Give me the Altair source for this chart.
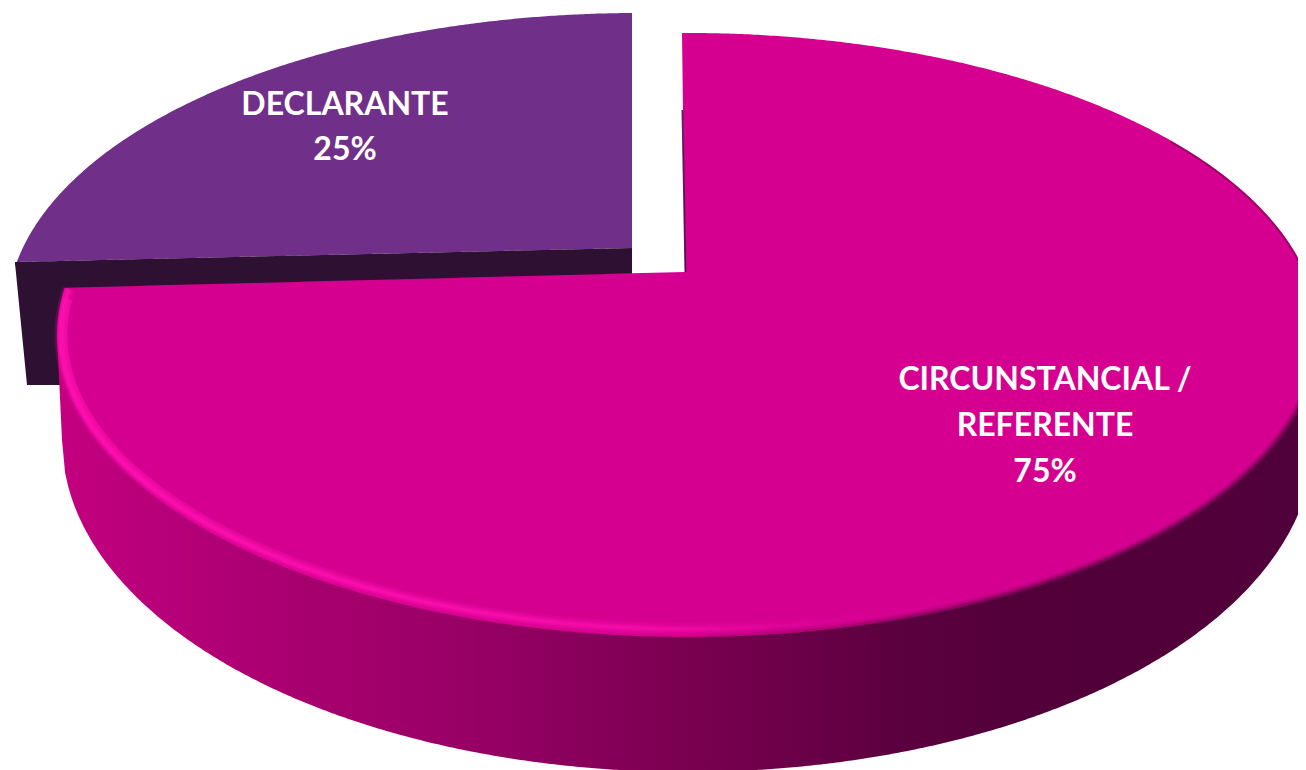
import numpy as np
import pandas as pd
import altair as alt

# ---- chart values ----
categories = ["CIRCUNSTANCIAL / REFERENTE", "DECLARANTE"]
shares = [75, 25]
label_lines = [["CIRCUNSTANCIAL /", "REFERENTE", "75%"], ["DECLARANTE", "25%"]]

# ---- drawing layout (canvas pixels) ----
W, H, MARGIN = 1306, 770, 8
VIEW_RIGHT = W - MARGIN                       # the page keeps the svg inside its 8px margins
CX, CY, RX, RY = 688.0, 335.0, 631.0, 302.0   # top face ellipse of the large slice
EX, EY = -50.0, -20.0                         # explosion offset of the small slice
APEX = (685.0, 272.0)
TILT = 9.0                                    # perspective offset of the slice edge, degrees
BX, BY, BRX, BRY = 688.0, 440.0, 626.0, 332.0 # silhouette of the wall
PINK, PURPLE, PURPLE_DARK = "#D60090", "#70308A", "#2E1033"
LABEL_POS = [(1045, [380, 426, 472]), (345, [105, 150])]

sweep = np.deg2rad(360 * shares[0] / sum(shares) + TILT)


def ell_x(t):
    return CX + RX * np.sin(t)


def ell_y(t):
    return CY - RY * np.cos(t)


def top_y(x, cx=CX, cy=CY, rx=RX, ry=RY):
    return cy - ry * np.sqrt(np.clip(1 - ((x - cx) / rx) ** 2, 0, 1))


def bot_y(x, cx=CX, cy=CY, rx=RX, ry=RY):
    return cy + ry * np.sqrt(np.clip(1 - ((x - cx) / rx) ** 2, 0, 1))


def frame(x, y, y2=None):
    d = {"x": x, "y": y, "i": np.arange(len(x))}
    if y2 is not None:
        d["yb"] = y2
    return pd.DataFrame(d)


xs = alt.X("x:Q", scale=alt.Scale(domain=[MARGIN, VIEW_RIGHT], nice=False, zero=False), axis=None)
ys = alt.Y("y:Q", scale=alt.Scale(domain=[H, MARGIN], nice=False, zero=False), axis=None)


def area(df, **mark):
    return alt.Chart(df).mark_area(clip=True, interpolate="linear", orient="vertical", **mark).encode(
        x=xs, y=ys, y2=alt.Y2("yb"))


def line(df, **mark):
    return alt.Chart(df).mark_line(clip=True, interpolate="linear", **mark).encode(
        x=xs, y=ys, order=alt.Order("i:Q"))


def grad(stops):
    return alt.LinearGradient(
        gradient="linear", x1=0, x2=1, y1=0, y2=0,
        stops=[alt.GradientStop(offset=float(o), color=c) for o, c in stops])


# ---- small slice: top face ----
corner_x, corner_y = 15.0, 262.0
end_x, end_y = 632.0, 248.0
px = np.concatenate([np.linspace(corner_x, 60, 40), np.linspace(60, end_x, 200)])
p_top = top_y(px, CX + EX, CY + EY)
p_bot = corner_y + (px - corner_x) / (end_x - corner_x) * (end_y - corner_y)
purple_top = area(frame(px, p_top, p_bot), color=PURPLE)

# ---- small slice: cut face ----
dx = np.concatenate([[corner_x], np.linspace(27, 100, 10), [100, end_x]])
d_top = corner_y + (dx - corner_x) / (end_x - corner_x) * (end_y - corner_y)
d_bot = np.concatenate([[corner_y + 1], np.full(10, 385.0), [295.0, 280.0]])
purple_side = area(frame(dx, d_top, d_bot), color=PURPLE_DARK)

# ---- large slice: outer wall ----
wx = np.concatenate([[CX - RX], np.linspace(BX - BRX, VIEW_RIGHT, 400)])
wy = np.concatenate([[CY], bot_y(wx[1:], BX, BY, BRX, BRY)])
wall_stops_x = [57, 200, 300, 450, 600, 700, 800, 900, 1000, 1298]
wall_stops_c = ["#C4007F", "#B20077", "#A8006F", "#9A0067", "#860059", "#78004F",
                "#6A0048", "#5C003F", "#53003A", "#50003A"]
wall_grad = grad([((x - 57) / (1298 - 57), c) for x, c in zip(wall_stops_x, wall_stops_c)])
wall = area(frame(wx, np.full(len(wx), CY), wy), color=wall_grad)

# ---- large slice: top face ----
t_end = sweep
corner = (ell_x(t_end), ell_y(t_end))
lx = np.concatenate([CX - RX * np.cos(np.linspace(0, np.pi / 2 - (2 * np.pi - t_end), 30)),
                     np.linspace(corner[0] + 0.01, APEX[0], 60),
                     [APEX[0] + 10]])
l_top = np.where(lx <= corner[0], top_y(lx),
                 corner[1] + (np.minimum(lx, APEX[0]) - corner[0]) / (APEX[0] - corner[0]) * (APEX[1] - corner[1]))
pink_left = area(frame(lx, l_top, bot_y(lx)), color=PINK)

rx_ = np.concatenate([np.linspace(682, APEX[0], 6),
                      [APEX[0]],
                      CX + RX * np.sin(np.linspace(np.arcsin((APEX[0] + 0.01 - CX) / RX), np.pi / 2, 300))])
r_bot = np.concatenate([np.linspace(32, APEX[1], 6), bot_y(rx_[6:])])
pink_right = area(frame(rx_, top_y(rx_), r_bot), color=PINK)

# dark sliver along the cut edge of the large slice
sliver = line(frame(np.array([682.4, 685.4]), np.array([110.0, 272.0])),
              color="#4A0A50", strokeWidth=1.8, opacity=0.9)

# ---- rim light on the front-left edge ----
rim_t = np.linspace(np.deg2rad(-99), np.deg2rad(30), 400)
rim_x = CX + (RX - 4) * np.sin(rim_t)
rim_y = CY + (RY - 8) * np.cos(rim_t)
x0, x1 = rim_x.min(), rim_x.max()


def at(x):
    return (x - x0) / (x1 - x0)


rim_grad = grad([
    (at(x0), "rgba(255,16,176,1)"), (at(450), "rgba(255,16,176,1)"), (at(650), "rgba(255,16,176,0.75)"),
    (at(800), "rgba(230,8,160,0.35)"), (at(x1), "rgba(214,0,144,0)")])
rim_df = frame(rim_x, rim_y)
rims = [line(rim_df, stroke=rim_grad, strokeWidth=w, opacity=o)
        for w, o in [(13, 0.18), (9, 0.25), (6, 0.35), (3, 0.55)]]

# wider glow on the far-left part of the rim
glow_t = np.linspace(np.deg2rad(-97), np.deg2rad(-25), 200)
glow_x = CX + (RX - 6) * np.sin(glow_t)
glow_y = CY + (RY - 10) * np.cos(glow_t)
g0, g1 = glow_x.min(), glow_x.max()
glow_grad = grad([(0.0, "rgba(255,16,176,0.9)"), ((160 - g0) / (g1 - g0), "rgba(255,16,176,0.55)"),
                  (1.0, "rgba(255,16,176,0)")])
glow = line(frame(glow_x, glow_y), stroke=glow_grad, strokeWidth=9, opacity=0.6)

# ---- dark soft edge on the front-right ----
shade_t = np.linspace(np.deg2rad(-5), np.deg2rad(90), 300)
shade_x = CX + (RX - 1) * np.sin(shade_t)
shade_y = CY + (RY - 1) * np.cos(shade_t)
s0, s1 = shade_x.min(), shade_x.max()
shade_grad = grad([
    (0.0, "rgba(80,0,58,0)"), ((850 - s0) / (s1 - s0), "rgba(80,0,58,0.35)"),
    ((1050 - s0) / (s1 - s0), "rgba(80,0,58,0.9)"), (1.0, "rgba(80,0,58,1)")])
shade_df = frame(shade_x, shade_y)
shades = [line(shade_df, stroke=shade_grad, strokeWidth=w, opacity=o)
          for w, o in [(10, 0.2), (6, 0.3), (3, 0.5)]]

# ---- thin shaded edge on the back-right ----
edge_a = np.linspace(np.deg2rad(50), np.deg2rad(90), 60)
edge_top = line(frame(CX + (RX - 1) * np.sin(edge_a), CY - (RY - 1) * np.cos(edge_a)),
                color="#6A0048", strokeWidth=2, opacity=0.5)

# ---- labels ----
rows = []
for lines, (lx_, lys) in zip(label_lines, LABEL_POS):
    for txt, ly in zip(lines, lys):
        rows.append({"x": lx_, "y": ly, "t": txt})
labels = alt.Chart(pd.DataFrame(rows)).mark_text(
    font="Lato", fontWeight="bold", fontSize=32, color="white", align="center", baseline="middle"
).encode(x=xs, y=ys, text="t:N")

chart = alt.layer(purple_top, purple_side, wall, pink_left, pink_right, sliver, *rims, glow, *shades, edge_top, labels).properties(
    width=VIEW_RIGHT - MARGIN, height=H - MARGIN, padding=0, autosize=alt.AutoSizeParams(type="none"),
    background="white"
).configure_view(stroke=None)

chart.save("out.html", embed_options={"renderer": "svg", "actions": False})
